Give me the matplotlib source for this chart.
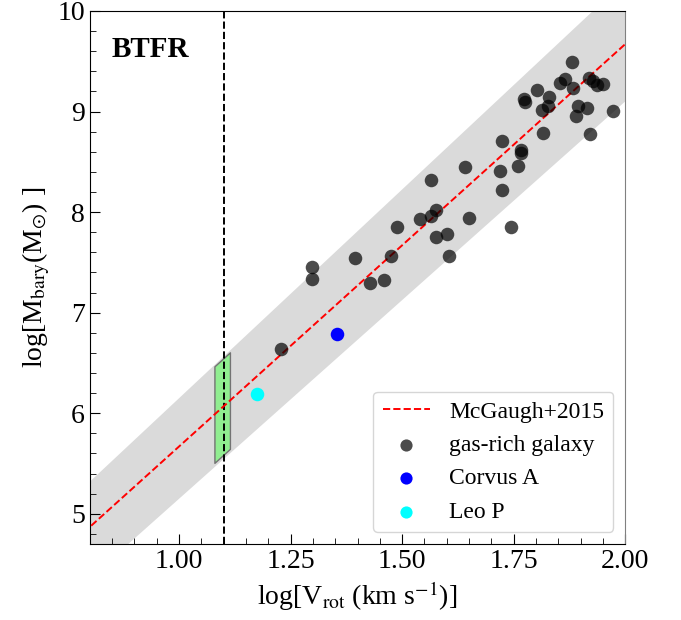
import numpy as np
import matplotlib.pyplot as plt
from matplotlib.ticker import MultipleLocator

plt.rcParams['font.family'] = ['Liberation Serif', 'DejaVu Serif']
plt.rcParams['mathtext.fontset'] = 'stix'

# gas-rich galaxies: log V_rot, log M_bary
logv = [1.298, 1.298, 1.228, 1.395, 1.429, 1.459, 1.475, 1.488, 1.540, 1.564,
        1.576, 1.575, 1.600, 1.605, 1.565, 1.641, 1.650, 1.745, 1.720, 1.724,
        1.724, 1.760, 1.767, 1.767, 1.773, 1.775, 1.803, 1.813, 1.816, 1.828,
        1.830, 1.853, 1.866, 1.881, 1.883, 1.889, 1.894, 1.915, 1.918, 1.928,
        1.937, 1.951, 1.921, 1.973]
logm = [7.45, 7.33, 6.64, 7.54, 7.30, 7.32, 7.56, 7.85, 7.93, 7.96,
        8.02, 7.75, 7.78, 7.56, 8.32, 8.45, 7.94, 7.85, 8.41, 8.22,
        8.71, 8.46, 8.62, 8.59, 9.12, 9.09, 9.21, 9.02, 8.79, 9.06,
        9.14, 9.28, 9.32, 9.49, 9.23, 8.96, 9.06, 9.04, 9.33, 9.30,
        9.26, 9.27, 8.78, 9.01]

corvus_v, corvus_m = 1.354, 6.79
leop_v, leop_m = 1.174, 6.19

# McGaugh+2015: log M = 4 log V + 1.67
slope, icpt = 4.0, 1.67
# grey scatter band edges
up_slope, up_icpt = 4.15, 2.0
lo_slope, lo_icpt = 3.95, 1.20
# V_rot range 12-13 km/s
box_v = [np.log10(12), np.log10(13)]
box_dm = 0.48
vline_x = 1.1

fig = plt.figure(figsize=(6.81, 6.20), dpi=100)
ax = fig.add_axes([0.132, 0.1226, 0.786, 0.8597])

xx = np.array([0.7, 2.1])
ax.fill_between(xx, lo_slope * xx + lo_icpt, up_slope * xx + up_icpt,
                color='0.855', lw=0, zorder=1)

bx = np.array(box_v)
ax.fill_between(bx, slope * bx + icpt - box_dm, slope * bx + icpt + box_dm,
                facecolor='#90ee90', edgecolor='0.45', lw=1.0, zorder=2)

ax.axvline(vline_x, color='k', ls='--', lw=1.4, zorder=3)
ax.plot(xx, slope * xx + icpt, color='red', ls='--', lw=1.4, zorder=4,
        label='McGaugh+2015')

ax.scatter(logv, logm, s=95, color='k', alpha=0.7, lw=0, zorder=5,
           label='gas-rich galaxy')
ax.scatter([corvus_v], [corvus_m], s=95, color='blue', lw=0, zorder=6,
           label='Corvus A')
ax.scatter([leop_v], [leop_m], s=95, color='cyan', lw=0, zorder=6,
           label='Leo P')

ax.set_xlim(0.8, 2.0)
ax.set_ylim(4.7, 10)
ax.xaxis.set_major_locator(MultipleLocator(0.25))
ax.xaxis.set_minor_locator(MultipleLocator(0.05))
ax.yaxis.set_major_locator(MultipleLocator(1))
ax.yaxis.set_minor_locator(MultipleLocator(0.2))
ax.tick_params(which='both', direction='in', labelsize=20)
ax.tick_params(which='major', length=7)
ax.tick_params(which='minor', length=4)
ax.xaxis.set_major_formatter(plt.FuncFormatter(lambda v, p: f'{v:.2f}'))
ax.spines['right'].set_color('0.5')

ax.set_xlabel(r'log[V$_{\rm rot}$ (km s$^{-1}$)]', fontsize=20)
ax.set_ylabel(r'log[M$_{\rm bary}$(M$_{\odot}$) ]', fontsize=20)

ax.text(0.041, 0.928, 'BTFR', transform=ax.transAxes, fontsize=21,
        fontweight='bold', va='center', ha='left')

ax.legend(loc='lower right', fontsize=17, borderaxespad=0.5, markerscale=0.9)

fig.savefig('out.png', dpi=100)
